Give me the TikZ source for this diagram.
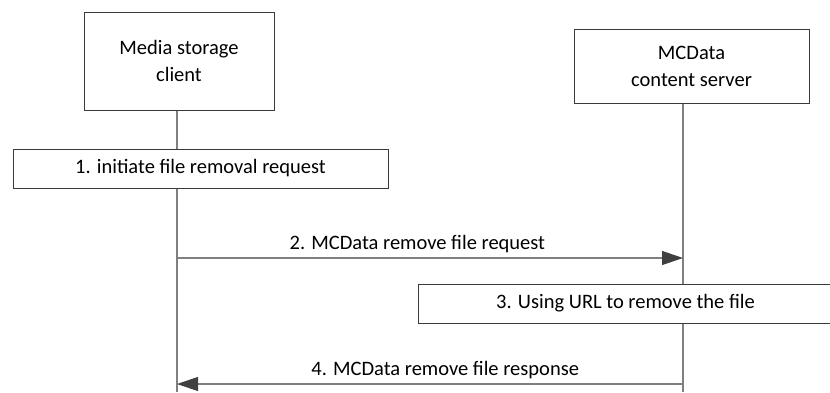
\documentclass[tikz,border=0pt]{standalone}
\usepackage{fontspec}
\setmainfont{Carlito}
\usetikzlibrary{arrows.meta,positioning,backgrounds,calc}
\definecolor{boxLine}{HTML}{3A3A3A}
\definecolor{lifeGray}{HTML}{808080}
\definecolor{msgGray}{HTML}{7F7F7F}
\definecolor{headGray}{HTML}{404040}

\begin{document}
\begin{tikzpicture}[
  x=1pt, y=-1pt,
  font=\fontsize{20.5}{27}\selectfont,
  box/.style={
    draw=boxLine, fill=white, align=center, inner sep=0pt, line width=1pt},
  actor/.style={box},
  stepbox/.style={box, minimum height=39pt},
  life/.style={draw=lifeGray, line width=1.8pt},
  msg/.style={draw=msgGray, line width=1.1pt,
    -{Triangle[length=21pt, width=14pt, fill=headGray, color=headGray]}},
  lbl/.style={inner sep=2pt},
]
\useasboundingbox (0,0) rectangle (830,392);

% ---------------- actors ----------------
\node[actor, minimum width=190pt, minimum height=98pt] (client) at (179,61)
  {Media storage\\client};
\node[actor, minimum width=235pt, minimum height=74pt] (server) at (691.5,66)
  {MCData\\content server};

% lifeline anchors
\coordinate (cl) at (177,110);
\coordinate (sv) at (683,103);
\coordinate (clEnd) at (cl |- 0,392);
\coordinate (svEnd) at (sv |- 0,392);

% ---------------- steps ----------------
\node[stepbox, minimum width=375pt] (initiate) at (200.5,168.5)
  {1. initiate file removal request};
\node[stepbox, minimum width=430pt] (remove) at (633,303.5)
  {\hspace*{-15pt}3. Using URL to remove the file};

% ---------------- messages ----------------
\coordinate (reqFrom) at (cl |- 0,258);
\coordinate (reqTo)   at (sv |- 0,258);
\coordinate (rspFrom) at (sv |- 0,384);
\coordinate (rspTo)   at (cl |- 0,384);

\draw[msg] (reqFrom) -- node[lbl, above=3pt, pos=0.475]{2. MCData remove file request} (reqTo);
\draw[msg] (rspFrom) -- node[lbl, above=3pt, pos=0.47]{4. MCData remove file response} (rspTo);

% ---------------- lifelines ----------------
\begin{scope}[on background layer]
  \draw[life] (cl) -- (clEnd);
  \draw[life] (sv) -- (svEnd);
\end{scope}

\end{tikzpicture}
\end{document}
